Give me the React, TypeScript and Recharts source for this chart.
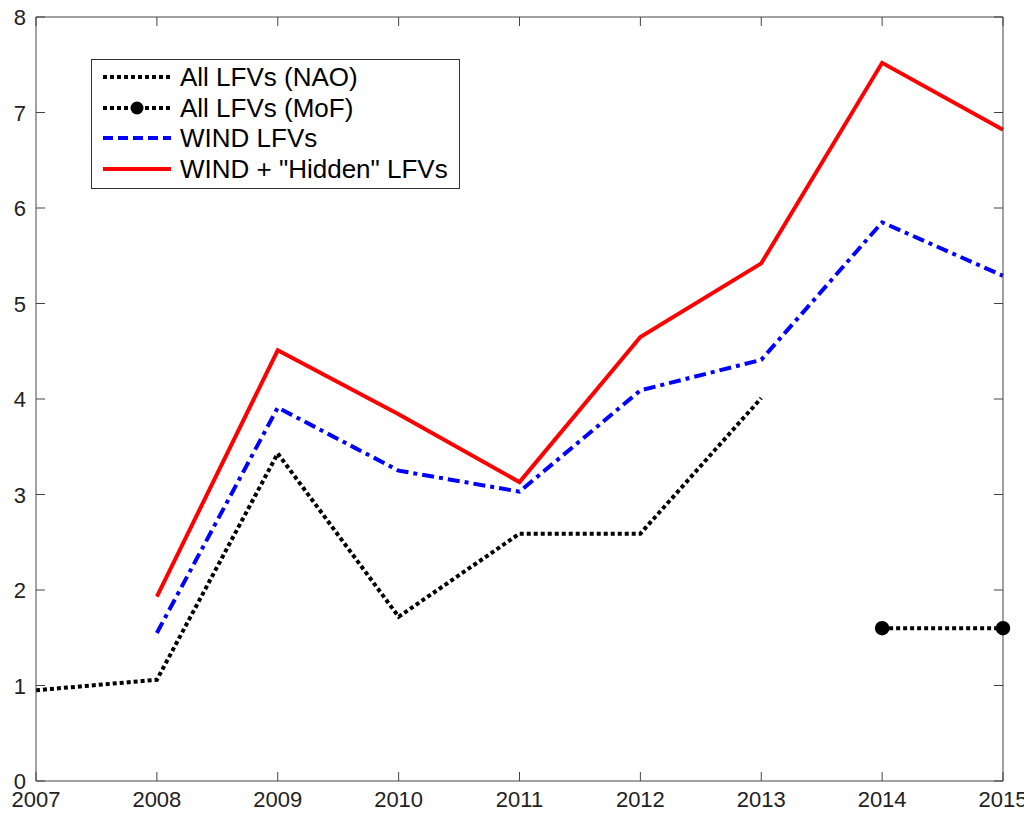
import React from 'react';
import { LineChart, Line, XAxis, YAxis, ReferenceLine } from 'recharts';

const years = [2007, 2008, 2009, 2010, 2011, 2012, 2013, 2014, 2015];
const naoValues = [0.95, 1.06, 3.43, 1.72, 2.59, 2.59, 4.01, null, null];
const mofValues = [null, null, null, null, null, null, null, 1.6, 1.6];
const windValues = [null, 1.55, 3.91, 3.25, 3.03, 4.09, 4.41, 5.85, 5.29];
const hiddenValues = [null, 1.93, 4.51, 3.84, 3.13, 4.65, 5.42, 7.52, 6.82];
const yTicks = [0, 1, 2, 3, 4, 5, 6, 7, 8];

const data = years.map((year, i) => ({
  year,
  nao: naoValues[i],
  mof: mofValues[i],
  wind: windValues[i],
  hidden: hiddenValues[i],
}));

const FONT = '"Liberation Sans", Arial, Helvetica, sans-serif';
const AXIS = '#444';
// inward tick length, in axis units (about 9px each way)
const X_TICK_LEN = 0.094;
const Y_TICK_LEN = 0.075;
const X_MIN = 2007;
const X_MAX = 2015;
const Y_MIN = 0;
const Y_MAX = 8;

const BottomLabel = (props: any) => {
  const { x, y, payload } = props;
  return (
    <text x={x} y={y + 26} textAnchor="middle" fontSize={22} fontFamily={FONT} fill="#222">
      {payload.value}
    </text>
  );
};

const LeftLabel = (props: any) => {
  const { x, y, payload } = props;
  return (
    <text x={x - 10} y={y + 8} textAnchor="end" fontSize={22} fontFamily={FONT} fill="#222">
      {payload.value}
    </text>
  );
};

const NoLabel = () => <g />;

const legendItems = [
  { label: 'All LFVs (NAO)', color: '#000', dash: '4 3', dot: false },
  { label: 'All LFVs (MoF)', color: '#000', dash: '4 3', dot: true },
  { label: 'WIND LFVs', color: '#0000ff', dash: '10 5', dot: false },
  { label: 'WIND + "Hidden" LFVs', color: '#ff0000', dash: undefined, dot: false },
];

const LegendBox = () => (
  <div
    style={{
      position: 'absolute',
      left: 83,
      top: 51,
      width: 367,
      height: 126,
      border: '1px solid #333',
      background: '#fff',
      boxSizing: 'content-box',
      paddingTop: 2,
      fontFamily: FONT,
      fontSize: 26,
    }}
  >
    {legendItems.map((it) => (
      <div key={it.label} style={{ display: 'flex', alignItems: 'center', height: 30.5 }}>
        <svg width={78} height={20} style={{ marginLeft: 10, flex: 'none' }}>
          <line x1={1} y1={10} x2={69} y2={10} stroke={it.color} strokeWidth={4} strokeDasharray={it.dash} />
          {it.dot && <circle cx={35} cy={10} r={6.5} fill="#000" />}
        </svg>
        <span style={{ color: '#000', whiteSpace: 'nowrap', lineHeight: '30px' }}>{it.label}</span>
      </div>
    ))}
  </div>
);

export default function App() {
  return (
    <div style={{ position: 'relative', width: 1024, height: 806, background: '#fff' }}>
      <LineChart width={1024} height={806} data={data} margin={{ top: 9, right: 29, bottom: 0, left: 0 }}>
        <XAxis
          xAxisId="b"
          dataKey="year"
          type="number"
          domain={[X_MIN, X_MAX]}
          ticks={years}
          height={33}
          tickLine={false}
          tickSize={0}
          tickMargin={0}
          stroke={AXIS}
          tick={<BottomLabel />}
          interval={0}
        />
        <XAxis
          xAxisId="t"
          orientation="top"
          dataKey="year"
          type="number"
          domain={[X_MIN, X_MAX]}
          ticks={years}
          mirror
          height={10}
          tickLine={false}
          stroke={AXIS}
          tick={<NoLabel />}
          interval={0}
        />
        <YAxis
          yAxisId="l"
          domain={[Y_MIN, Y_MAX]}
          ticks={yTicks}
          width={28}
          tickLine={false}
          tickSize={0}
          tickMargin={0}
          stroke={AXIS}
          tick={<LeftLabel />}
          interval={0}
        />
        <YAxis
          yAxisId="r"
          orientation="right"
          domain={[Y_MIN, Y_MAX]}
          ticks={yTicks}
          mirror
          width={10}
          tickLine={false}
          stroke={AXIS}
          tick={<NoLabel />}
          interval={0}
        />
        {years.map((yr) => (
          <ReferenceLine
            key={`xb${yr}`}
            xAxisId="b"
            yAxisId="l"
            segment={[{ x: yr, y: Y_MIN }, { x: yr, y: Y_MIN + X_TICK_LEN }]}
            stroke={AXIS}
            strokeWidth={1}
          />
        ))}
        {years.map((yr) => (
          <ReferenceLine
            key={`xt${yr}`}
            xAxisId="b"
            yAxisId="l"
            segment={[{ x: yr, y: Y_MAX }, { x: yr, y: Y_MAX - X_TICK_LEN }]}
            stroke={AXIS}
            strokeWidth={1}
          />
        ))}
        {yTicks.map((v) => (
          <ReferenceLine
            key={`yl${v}`}
            xAxisId="b"
            yAxisId="l"
            segment={[{ x: X_MIN, y: v }, { x: X_MIN + Y_TICK_LEN, y: v }]}
            stroke={AXIS}
            strokeWidth={1}
          />
        ))}
        {yTicks.map((v) => (
          <ReferenceLine
            key={`yr${v}`}
            xAxisId="b"
            yAxisId="l"
            segment={[{ x: X_MAX, y: v }, { x: X_MAX - Y_TICK_LEN, y: v }]}
            stroke={AXIS}
            strokeWidth={1}
          />
        ))}
        <Line
          xAxisId="b"
          yAxisId="l"
          dataKey="nao"
          stroke="#000"
          strokeWidth={4}
          strokeDasharray="4 3"
          dot={false}
          connectNulls={false}
          isAnimationActive={false}
        />
        <Line
          xAxisId="b"
          yAxisId="l"
          dataKey="mof"
          stroke="#000"
          strokeWidth={4}
          strokeDasharray="4 3"
          dot={{ r: 6.5, fill: '#000', stroke: '#000', strokeWidth: 1.5, strokeDasharray: '' }}
          connectNulls={false}
          isAnimationActive={false}
        />
        <Line
          xAxisId="b"
          yAxisId="l"
          dataKey="wind"
          stroke="#0000ff"
          strokeWidth={4}
          strokeDasharray="12 5 4 5"
          dot={false}
          connectNulls={false}
          isAnimationActive={false}
        />
        <Line
          xAxisId="b"
          yAxisId="l"
          dataKey="hidden"
          stroke="#ff0000"
          strokeWidth={4}
          dot={false}
          connectNulls={false}
          isAnimationActive={false}
        />
      </LineChart>
      <LegendBox />
    </div>
  );
}
